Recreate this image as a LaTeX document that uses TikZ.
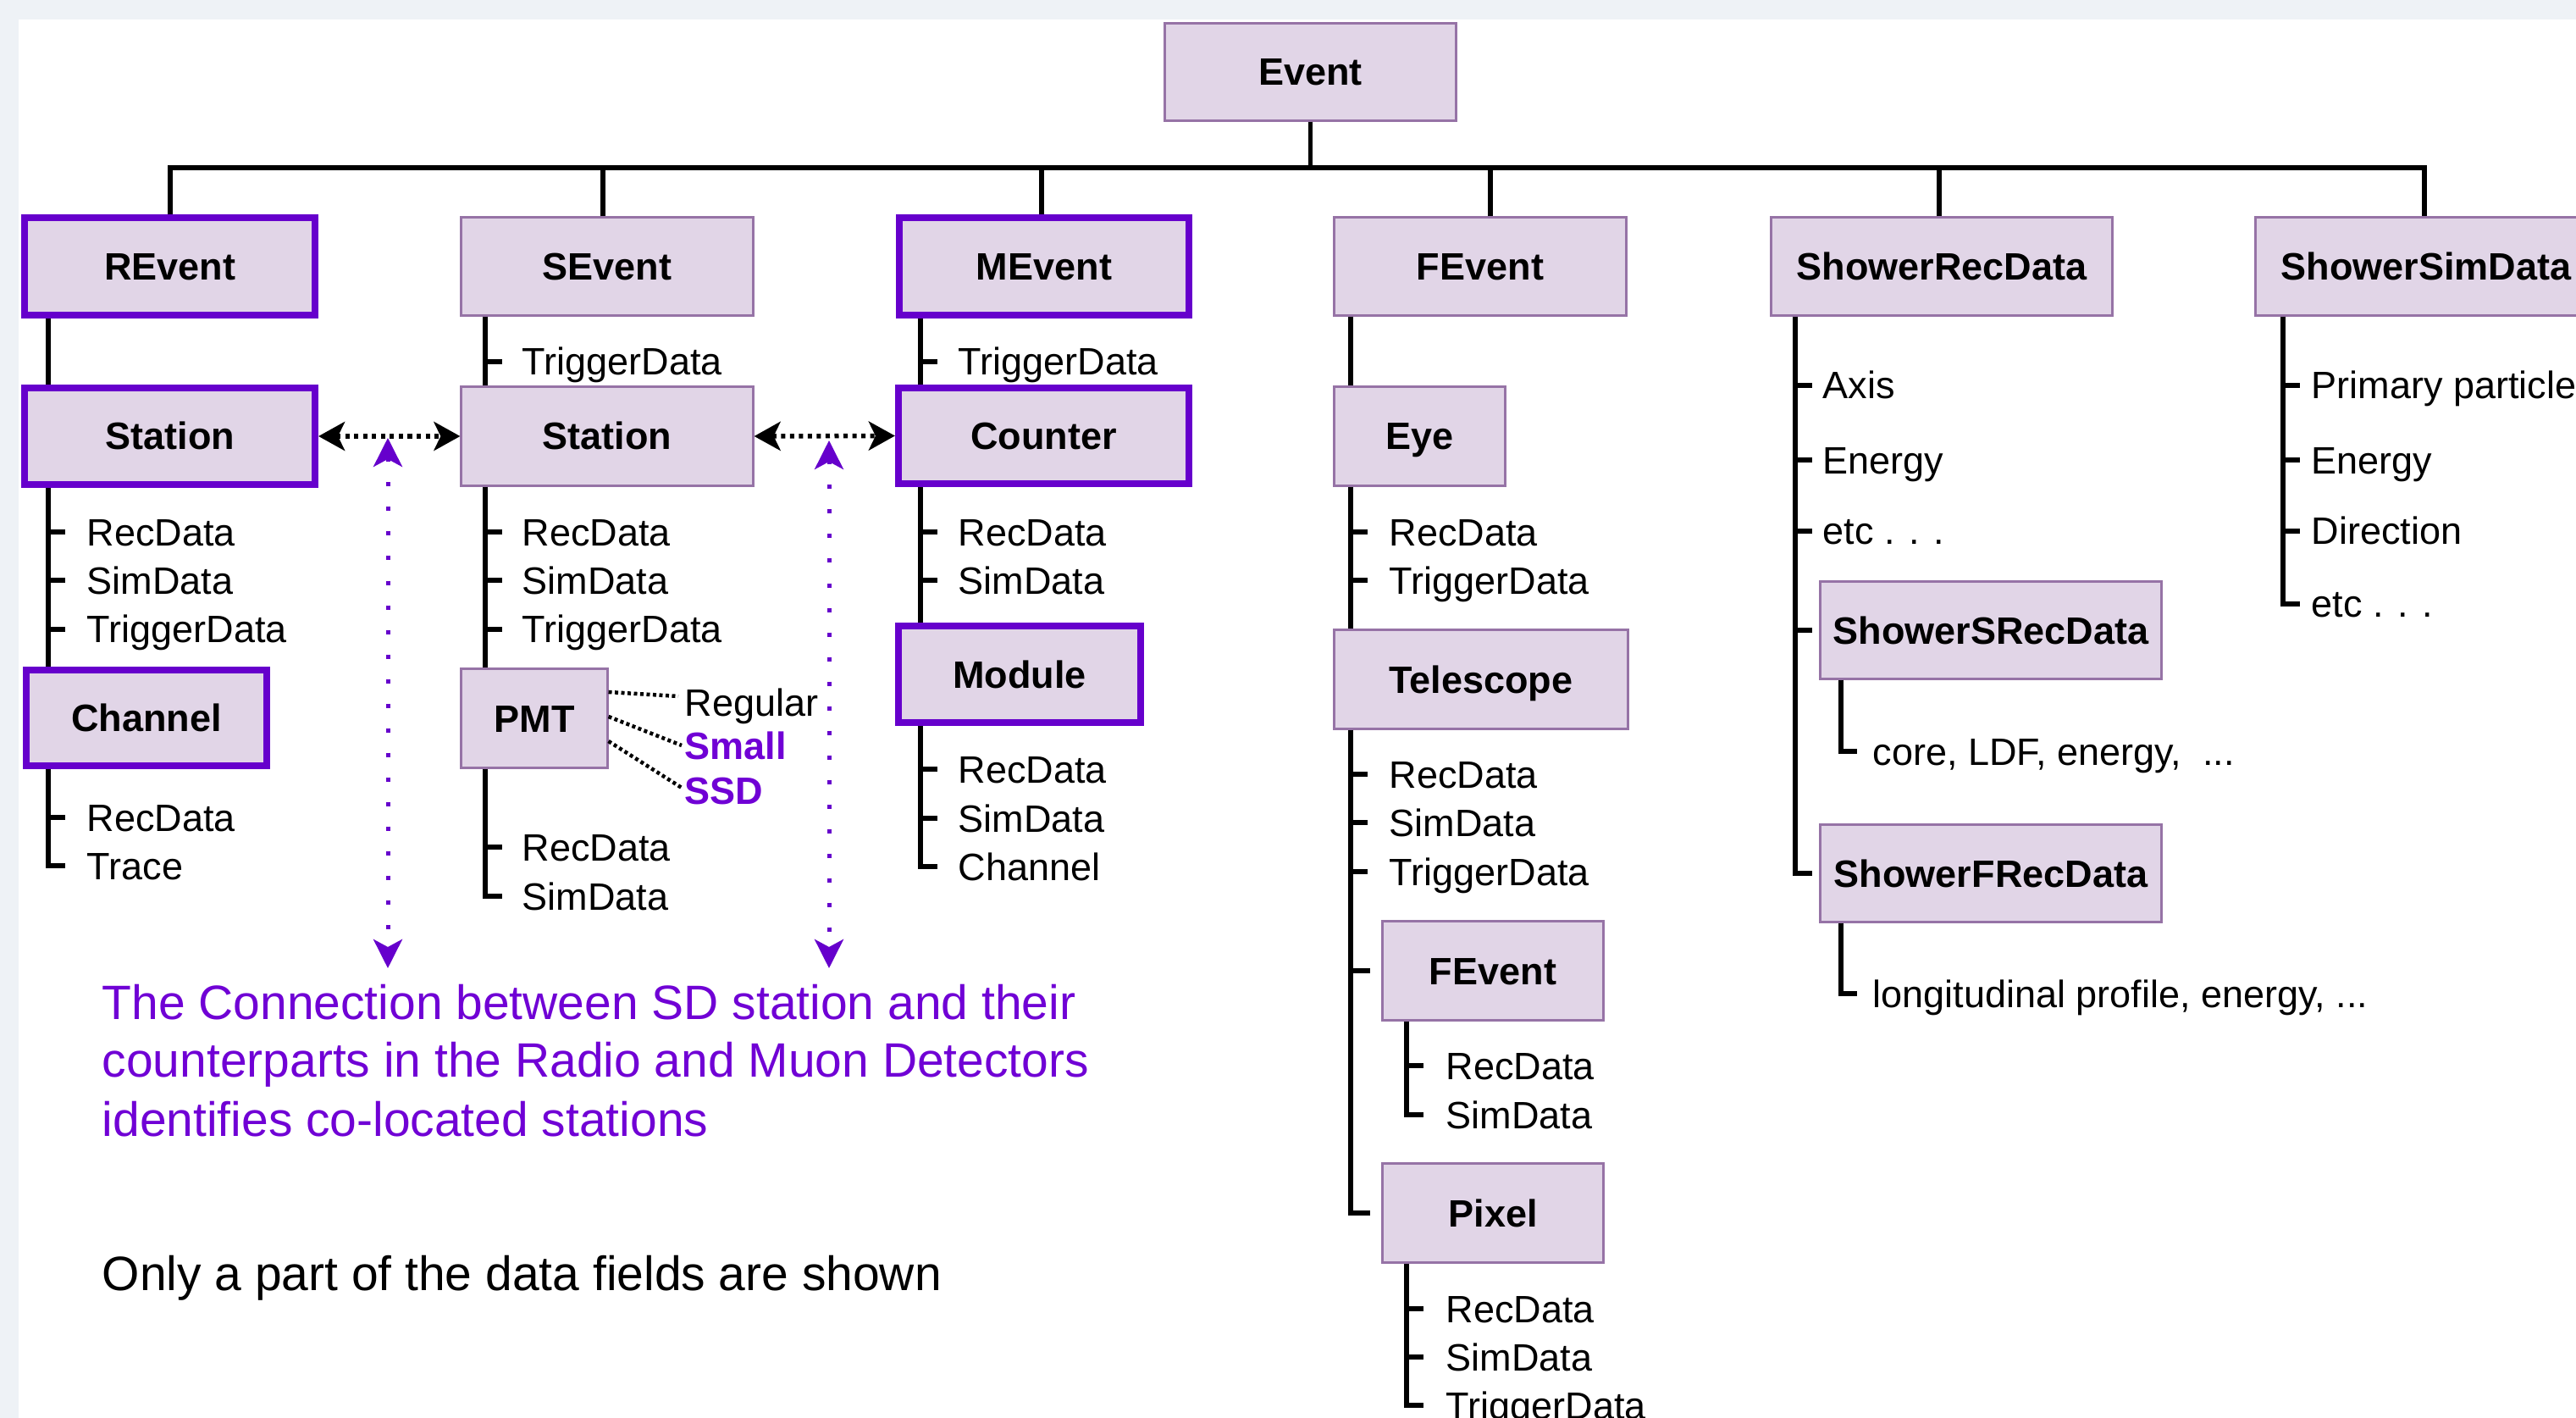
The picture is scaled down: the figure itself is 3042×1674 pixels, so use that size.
\documentclass[tikz,border=0pt]{standalone}
\usepackage{fontspec}
\setmainfont{Liberation Sans}
\usetikzlibrary{arrows.meta}
\definecolor{boxfill}{HTML}{E1D5E7}
\definecolor{boxline}{HTML}{9673A6}
\definecolor{deeppurple}{HTML}{6600CC}
\definecolor{notepurple}{HTML}{7000D5}
\definecolor{bggrey}{HTML}{EEF2F6}
\newcommand{\itemfont}{\fontsize{12.8pt}{15pt}\selectfont}
\newcommand{\notefont}{\fontsize{16.2pt}{19.6pt}\selectfont}
\tikzset{
  box/.style={draw=boxline, fill=boxfill, line width=0.03cm, inner sep=0pt,
    font=\itemfont\bfseries, text height=0.32cm, text depth=0pt,
    minimum width=3.44cm, minimum height=1.15cm},
  thickbox/.style={box, draw=deeppurple, line width=0.08cm},
  field/.style={anchor=west, inner sep=0pt, font=\itemfont, text height=0.32cm, text depth=0pt},
  wire/.style={line width=0.055cm, draw=black},
  stationlink/.style={line width=0.055cm, dash pattern=on 0.05cm off 0.055cm,
    {Stealth[length=0.31cm,width=0.34cm,inset=0.08cm]}-{Stealth[length=0.31cm,width=0.34cm,inset=0.08cm]}},
  colink/.style={draw=deeppurple, line width=0.05cm, dash pattern=on 0.05cm off 0.24cm,
    {Stealth[length=0.34cm,width=0.34cm,inset=0.09cm,fill=deeppurple]}-{Stealth[length=0.34cm,width=0.34cm,inset=0.09cm,fill=deeppurple]}},
  pmtlink/.style={line width=0.045cm, dash pattern=on 0.04cm off 0.035cm},
  note/.style={anchor=base west, inner sep=0pt, font=\notefont},
}
\begin{document}
\begin{tikzpicture}[x=0.01cm, y=-0.01cm]
\useasboundingbox (0,0) rectangle (3042,1674);
\clip (0,0) rectangle (3042,1674);
\fill[bggrey] (0,0) rectangle (3042,1674);
\fill[white] (22,23) rectangle (3042,1674);

% spine coordinates
\coordinate (spR) at (57,0);
\coordinate (spS) at (573,0);
\coordinate (spM) at (1087,0);
\coordinate (spF) at (1595,0);
\coordinate (spFb) at (1661,0);
\coordinate (spSR) at (2120,0);
\coordinate (spSRb) at (2174,0);
\coordinate (spSS) at (2696,0);
\coordinate (bus) at (0,198);

% boxes
\node[box, minimum width=3.43cm, minimum height=1.14cm] (Event) at (1547.5,85) {Event};
\node[thickbox, minimum width=3.425cm] (REvent) at (200.75,314.5) {REvent};
\node[box] (SEvent) at (717,314.5) {SEvent};
\node[thickbox, minimum width=3.42cm] (MEvent) at (1233,314.5) {MEvent};
\node[box] (FEvent) at (1748,314.5) {FEvent};
\node[box, minimum width=4.02cm] (ShowerRec) at (2293,314.5) {ShowerRecData};
\node[box, minimum width=4.02cm] (ShowerSim) at (2865,314.5) {ShowerSimData};

\node[thickbox, minimum width=3.425cm, minimum height=1.14cm] (stR) at (200.75,515) {Station};
\node[box, minimum height=1.16cm] (stS) at (717,515) {Station};
\node[thickbox, minimum width=3.43cm, minimum height=1.13cm] (counter) at (1232.5,514.5) {Counter};
\node[box, minimum width=2.01cm, minimum height=1.16cm] (eye) at (1676.5,515) {Eye};

\node[thickbox, minimum width=2.84cm, minimum height=1.13cm] (channel) at (173,847.5) {Channel};
\node[box, minimum width=1.72cm, minimum height=1.16cm] (pmt) at (631,848) {PMT};
\node[thickbox, minimum width=2.86cm, minimum height=1.14cm] (module) at (1204,796) {Module};
\node[box, minimum width=3.46cm, minimum height=1.16cm] (telescope) at (1749,802) {Telescope};
\node[box, minimum width=2.60cm, minimum height=1.16cm] (fsub) at (1763,1146) {FEvent};
\node[box, minimum width=2.60cm, minimum height=1.16cm] (pixel) at (1763,1432) {Pixel};
\node[box, minimum width=4.02cm, minimum height=1.14cm] (ssrec) at (2351,744) {ShowerSRecData};
\node[box, minimum width=4.02cm, minimum height=1.14cm] (sfrec) at (2351,1031) {ShowerFRecData};

% bus
\draw[wire] (Event.south) -- (Event.south |- bus);
\draw[wire] (REvent.north) |- ([xshift=-0.02cm]ShowerSim.north |- bus) -- ([xshift=-0.02cm]ShowerSim.north);
\draw[wire] ([xshift=-0.05cm]SEvent.north) -- ([xshift=-0.05cm]SEvent.north |- bus);
\draw[wire] ([xshift=-0.03cm]MEvent.north) -- ([xshift=-0.03cm]MEvent.north |- bus);
\draw[wire] ([xshift=0.12cm]FEvent.north) -- ([xshift=0.12cm]FEvent.north |- bus);
\draw[wire] ([xshift=-0.03cm]ShowerRec.north) -- ([xshift=-0.03cm]ShowerRec.north |- bus);

% R column
\node[field] (r1) at (102,628) {RecData};
\node[field] (r2) at (102,685) {SimData};
\node[field] (r3) at (102,743) {TriggerData};
\node[field] (c1) at (102,965) {RecData};
\node[field] (c2) at (102,1022) {Trace};
\draw[wire] (REvent.south -| spR) -- (stR.north -| spR);
\draw[wire] (stR.south -| spR) -- (channel.north -| spR);
\draw[wire] (channel.south -| spR) -- (spR |- c2.west) -- ++(20,0);
\foreach \n in {r1,r2,r3,c1} \draw[wire] (spR |- \n.west) -- ++(20,0);

% S column
\node[field] (sT) at (616,427) {TriggerData};
\node[field] (s1) at (616,628) {RecData};
\node[field] (s2) at (616,685) {SimData};
\node[field] (s3) at (616,743) {TriggerData};
\node[field] (p1) at (616,1000) {RecData};
\node[field] (p2) at (616,1058) {SimData};
\draw[wire] (SEvent.south -| spS) -- (stS.north -| spS);
\draw[wire] (stS.south -| spS) -- (pmt.north -| spS);
\draw[wire] (pmt.south -| spS) -- (spS |- p2.west) -- ++(20,0);
\foreach \n in {sT,s1,s2,s3,p1} \draw[wire] (spS |- \n.west) -- ++(20,0);

% PMT variants
\node[field] (reg) at (808,829) {Regular};
\node[field, font=\itemfont\bfseries, text=notepurple] (small) at (808,880) {Small};
\node[field, font=\itemfont\bfseries, text=notepurple] (ssd) at (808,933) {SSD};
\draw[pmtlink] ([yshift=0.31cm]pmt.east) -- ([xshift=-0.07cm,yshift=0.07cm]reg.west);
\draw[pmtlink] ([yshift=0.02cm]pmt.east) -- ([xshift=-0.03cm]small.west);
\draw[pmtlink] ([yshift=-0.27cm]pmt.east) -- ([xshift=-0.03cm,yshift=0.03cm]ssd.west);

% M column
\node[field] (mT) at (1131,427) {TriggerData};
\node[field] (m1) at (1131,628) {RecData};
\node[field] (m2) at (1131,685) {SimData};
\node[field] (mm1) at (1131,908) {RecData};
\node[field] (mm2) at (1131,966) {SimData};
\node[field] (mm3) at (1131,1023) {Channel};
\draw[wire] (MEvent.south -| spM) -- (counter.north -| spM);
\draw[wire] (counter.south -| spM) -- (module.north -| spM);
\draw[wire] (module.south -| spM) -- (spM |- mm3.west) -- ++(20,0);
\foreach \n in {mT,m1,m2,mm1,mm2} \draw[wire] (spM |- \n.west) -- ++(20,0);

% F column
\node[field] (e1) at (1640,628) {RecData};
\node[field] (e2) at (1640,685) {TriggerData};
\node[field] (t1) at (1640,914) {RecData};
\node[field] (t2) at (1640,971) {SimData};
\node[field] (t3) at (1640,1029) {TriggerData};
\draw[wire] (FEvent.south -| spF) -- (eye.north -| spF);
\draw[wire] (eye.south -| spF) -- (telescope.north -| spF);
\draw[wire] (telescope.south -| spF) -- (spF |- pixel.west) -- ++(23,0);
\draw[wire] (spF |- fsub.west) -- ++(23,0);
\foreach \n in {e1,e2,t1,t2,t3} \draw[wire] (spF |- \n.west) -- ++(20,0);

\node[field] (fs1) at (1707,1258) {RecData};
\node[field] (fs2) at (1707,1316) {SimData};
\draw[wire] (fsub.south -| spFb) -- (spFb |- fs2.west) -- ++(20,0);
\draw[wire] (spFb |- fs1.west) -- ++(20,0);

\node[field] (px1) at (1707,1545) {RecData};
\node[field] (px2) at (1707,1602) {SimData};
\node[field] (px3) at (1707,1659) {TriggerData};
\draw[wire] (pixel.south -| spFb) -- (spFb |- px3.west) -- ++(20,0);
\foreach \n in {px1,px2} \draw[wire] (spFb |- \n.west) -- ++(20,0);

% ShowerRecData column
\node[field] (a1) at (2152,455) {Axis};
\node[field] (a2) at (2152,543) {Energy};
\node[field] (a3) at (2152,627) {etc . . .};
\draw[wire] (ShowerRec.south -| spSR) -- (spSR |- sfrec.west) -- ++(20,0);
\foreach \n in {a1,a2,a3} \draw[wire] (spSR |- \n.west) -- ++(20,0);
\draw[wire] (spSR |- ssrec.west) -- ++(20,0);
\node[field] (core) at (2211,887) {core, LDF, energy,\ \ ...};
\node[field] (lon) at (2211,1173) {longitudinal profile, energy, ...};
\draw[wire] (ssrec.south -| spSRb) -- (spSRb |- core.west) -- ++(19,0);
\draw[wire] (sfrec.south -| spSRb) -- (spSRb |- lon.west) -- ++(19,0);

% ShowerSimData column
\node[field] (b1) at (2729,455) {Primary particle};
\node[field] (b2) at (2729,543) {Energy};
\node[field] (b3) at (2729,627) {Direction};
\node[field] (b4) at (2729,713) {etc . . .};
\draw[wire] (ShowerSim.south -| spSS) -- (spSS |- b4.west) -- ++(20,0);
\foreach \n in {b1,b2,b3} \draw[wire] (spSS |- \n.west) -- ++(20,0);

% station links
\draw[stationlink] (stR.east) -- (stS.west);
\draw[stationlink] (stS.east) -- (counter.west);

% co-location arrows
\coordinate (ca1) at (458,517);
\coordinate (ca2) at (458,1143);
\coordinate (cb1) at (979,520);
\coordinate (cb2) at (979,1143);
\draw[colink] (ca1) -- (ca2);
\draw[colink] (cb1) -- (cb2);

% notes
\node[note, text=notepurple] (n1) at (120,1204) {The Connection between SD station and their};
\node[note, text=notepurple] (n2) at (120,1272) {counterparts in the Radio and Muon Detectors};
\node[note, text=notepurple] (n3) at (120,1342) {identifies co-located stations};
\node[note] (n4) at (120,1523) {Only a part of the data fields are shown};
\end{tikzpicture}
\end{document}
